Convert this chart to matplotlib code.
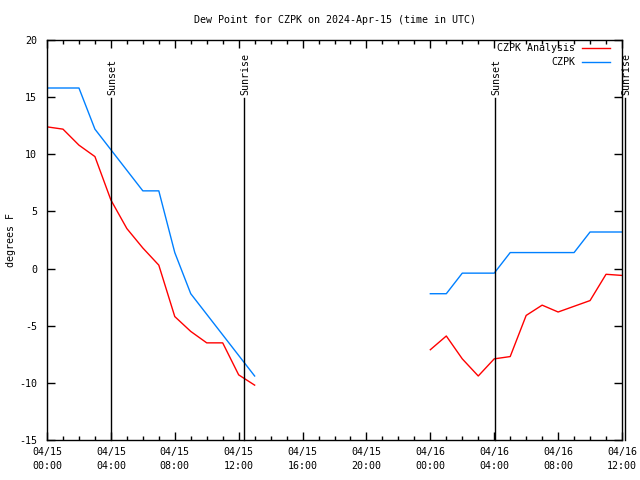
import numpy as np
import matplotlib
matplotlib.use("Agg")
import matplotlib.pyplot as plt
from matplotlib.transforms import blended_transform_factory

# hours since 04/15 00:00 UTC
hours = list(range(0, 37))
nan = float("nan")
analysis = [12.4, 12.2, 10.8, 9.8, 6.0, 3.5, 1.8, 0.3, -4.2, -5.5, -6.5, -6.5, -9.3, -10.2,
            nan, nan, nan, nan, nan, nan, nan, nan, nan, nan,
            -7.1, -5.9, -7.9, -9.4, -7.9, -7.7, -4.1, -3.2, -3.8, -3.3, -2.8, -0.5, -0.6]
czpk = [15.8, 15.8, 15.8, 12.2, 10.4, 8.6, 6.8, 6.8, 1.4, -2.2, -4.0, -5.8, -7.6, -9.4,
        nan, nan, nan, nan, nan, nan, nan, nan, nan, nan,
        -2.2, -2.2, -0.4, -0.4, -0.4, 1.4, 1.4, 1.4, 1.4, 1.4, 3.2, 3.2, 3.2]

sun_events = [4.02, 12.33, 28.06, 36.2]
sun_labels = ["Sunset", "Sunrise", "Sunset", "Sunrise"]

xtick_pos = [0, 4, 8, 12, 16, 20, 24, 28, 32, 36]
xtick_labels = ["04/15\n00:00", "04/15\n04:00", "04/15\n08:00", "04/15\n12:00",
                "04/15\n16:00", "04/15\n20:00", "04/16\n00:00", "04/16\n04:00",
                "04/16\n08:00", "04/16\n12:00"]
yticks = [-15, -10, -5, 0, 5, 10, 15, 20]

plt.rcParams['font.family'] = ['DejaVu Sans Mono']
FS = 7.2

fig = plt.figure(figsize=(6.4, 4.8), dpi=100)
ax = fig.add_axes([47/640, 40/480, 575/640, 400/480])

h = np.array(hours, dtype=float)
ax.plot(h, np.array(analysis), color='#ff0000', lw=1.0)
ax.plot(h, np.array(czpk), color='#0080ff', lw=1.0)

ax.set_xlim(0, 36)
ax.set_ylim(-15, 20)
ax.set_xticks(xtick_pos)
ax.set_xticklabels(xtick_labels, fontsize=FS, linespacing=1.45)
ax.set_xticks(range(0, 37), minor=True)
ax.set_yticks(yticks)
ax.set_yticklabels([str(v) for v in yticks], fontsize=FS)
ax.tick_params(which='both', direction='in', top=True, right=True, width=1, color='black')
ax.tick_params(which='major', length=6)
ax.tick_params(which='minor', length=3)
ax.tick_params(axis='x', pad=5)
ax.tick_params(axis='y', pad=7)
for s in ax.spines.values():
    s.set_linewidth(1)
    s.set_color('black')

for xe, lab in zip(sun_events, sun_labels):
    ax.plot([xe, xe], [0, 0.855], color='black', lw=1.0,
            transform=ax.get_xaxis_transform(), clip_on=False)
    ax.text(xe + 0.08, 0.862, lab, rotation=90, ha='center', va='bottom',
            fontsize=FS, transform=ax.get_xaxis_transform(), clip_on=False)

tt = blended_transform_factory(ax.transAxes, fig.transFigure)
ax.text(0.5, 1 - 20/480, "Dew Point for CZPK on 2024-Apr-15 (time in UTC)",
        fontsize=FS, ha='center', va='center', transform=tt, clip_on=False)
fig.text(11/640, 0.5, "degrees F", fontsize=FS, rotation=90, ha='center', va='center')

# legend (manual, gnuplot style: right-aligned text, sample to the right)
leg_items = [("CZPK Analysis", '#ff0000'), ("CZPK", '#0080ff')]
for i, (lab, col) in enumerate(leg_items):
    yy = 1 - (8.5 + 13.5 * i) / 400
    ax.text(1 - 47/575, yy, lab, ha='right', va='center', fontsize=FS,
            transform=ax.transAxes)
    ax.plot([1 - 40/575, 1 - 12/575], [yy, yy], color=col, lw=1.0,
            transform=ax.transAxes)

fig.savefig("out.png", dpi=100)
